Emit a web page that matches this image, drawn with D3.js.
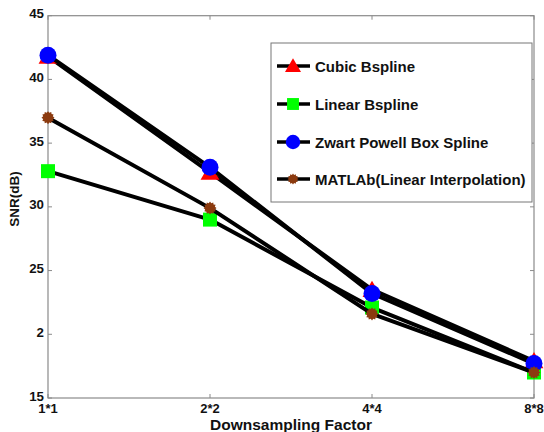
<!DOCTYPE html>
<html>
<head>
<meta charset="utf-8">
<script src="https://cdn.jsdelivr.net/npm/d3@7"></script>
<style>
  body { margin: 0; background: #fff; }
  svg { font-family: "Liberation Sans", Arial, Helvetica, sans-serif; font-weight: bold; }
</style>
</head>
<body>
<svg id="chart" width="544" height="432"></svg>
<script>
const factors = ['1*1', '2*2', '4*4', '8*8'];
const yTicks = [15, 20, 25, 30, 35, 40, 45];
const yTickLabels = ['15', '2', '25', '30', '35', '40', '45'];

const cubicBspline = [41.8, 32.7, 23.5, 17.9];
const linearBspline = [32.8, 29.0, 22.1, 17.0];
const zwartPowell = [41.9, 33.1, 23.2, 17.7];
const matlabLinear = [37.0, 29.9, 21.6, 17.0];

const seriesNames = ['Cubic Bspline', 'Linear Bspline', 'Zwart Powell Box Spline', 'MATLAb(Linear Interpolation)'];

const series = [
  { name: seriesNames[0], values: cubicBspline, marker: 'triangle', colour: '#ff0000' },
  { name: seriesNames[1], values: linearBspline, marker: 'square', colour: '#00ff00' },
  { name: seriesNames[2], values: zwartPowell, marker: 'circle', colour: '#0000ff' },
  { name: seriesNames[3], values: matlabLinear, marker: 'star', colour: '#8b3a0f' }
];

const svg = d3.select('#chart');
const plotLeft = 48, plotRight = 534, plotTop = 15.7, plotBottom = 398;
const axisColour = '#8a8a8a';

const x = d3.scalePoint().domain(factors).range([plotLeft, plotRight]);
const y = d3.scaleLinear().domain([15, 45]).range([plotBottom, plotTop]);

// frame
svg.append('rect')
  .attr('x', plotLeft).attr('y', plotTop)
  .attr('width', plotRight - plotLeft).attr('height', plotBottom - plotTop)
  .attr('fill', 'none').attr('stroke', axisColour).attr('stroke-width', 1.2);

// ticks on all four sides, pointing inward
const tickLen = 4;
yTicks.forEach(t => {
  svg.append('line').attr('x1', plotLeft).attr('x2', plotLeft + tickLen)
    .attr('y1', y(t)).attr('y2', y(t)).attr('stroke', axisColour);
  svg.append('line').attr('x1', plotRight).attr('x2', plotRight - tickLen)
    .attr('y1', y(t)).attr('y2', y(t)).attr('stroke', axisColour);
});
factors.forEach(f => {
  svg.append('line').attr('x1', x(f)).attr('x2', x(f))
    .attr('y1', plotBottom).attr('y2', plotBottom - tickLen).attr('stroke', axisColour);
  svg.append('line').attr('x1', x(f)).attr('x2', x(f))
    .attr('y1', plotTop).attr('y2', plotTop + tickLen).attr('stroke', axisColour);
});

// tick labels
svg.append('g').selectAll('text').data(yTicks).join('text')
  .attr('x', plotLeft - 4).attr('y', d => y(d) + 2.5)
  .attr('text-anchor', 'end').attr('font-size', 13.3).attr('fill', '#111')
  .text((d, i) => yTickLabels[i]);

svg.append('g').selectAll('text').data(factors).join('text')
  .attr('x', d => x(d)).attr('y', plotBottom + 15)
  .attr('text-anchor', 'middle').attr('font-size', 13).attr('fill', '#111')
  .text(d => d);

// axis titles
svg.append('text')
  .attr('x', (plotLeft + plotRight) / 2).attr('y', 429.5)
  .attr('text-anchor', 'middle').attr('font-size', 15.5).attr('fill', '#111')
  .text('Downsampling Factor');

svg.append('text')
  .attr('transform', `translate(19,199) rotate(-90)`)
  .attr('text-anchor', 'middle').attr('font-size', 13.5).attr('fill', '#111')
  .text('SNR(dB)');

// marker shapes
function starPath(r1, r2, n) {
  const pts = [];
  for (let i = 0; i < n * 2; i++) {
    const r = i % 2 === 0 ? r1 : r2;
    const a = Math.PI * i / n - Math.PI / 2;
    pts.push([r * Math.cos(a), r * Math.sin(a)]);
  }
  return 'M' + pts.map(p => p.join(',')).join('L') + 'Z';
}

function drawMarker(g, type, colour, cx, cy, scale = 1) {
  if (type === 'triangle') {
    const s = 9 * scale;
    g.append('path')
      .attr('d', `M${cx},${cy - s}L${cx + s * 1.05},${cy + s * 0.8}L${cx - s * 1.05},${cy + s * 0.8}Z`)
      .attr('fill', colour);
  } else if (type === 'square') {
    const s = 7 * scale;
    g.append('rect').attr('x', cx - s).attr('y', cy - s)
      .attr('width', 2 * s).attr('height', 2 * s).attr('fill', colour);
  } else if (type === 'circle') {
    g.append('circle').attr('cx', cx).attr('cy', cy).attr('r', 8.5 * scale).attr('fill', colour);
  } else {
    g.append('path').attr('d', starPath(6.5 * scale, 5 * scale, 12))
      .attr('transform', `translate(${cx},${cy})`).attr('fill', colour);
  }
}

const line = d3.line().x((d, i) => x(factors[i])).y(d => y(d));

series.forEach(s => {
  const g = svg.append('g');
  g.append('path').datum(s.values)
    .attr('d', line).attr('fill', 'none')
    .attr('stroke', '#000').attr('stroke-width', 4).attr('stroke-linejoin', 'round');
  s.values.forEach((v, i) => drawMarker(g, s.marker, s.colour, x(factors[i]), y(v)));
});

// legend
const legend = svg.append('g');
legend.append('rect')
  .attr('x', 271).attr('y', 43).attr('width', 261).attr('height', 159)
  .attr('fill', '#fff').attr('stroke', '#777').attr('stroke-width', 1);

const legendRows = [66, 104, 142, 179];
series.forEach((s, i) => {
  const ly = legendRows[i];
  legend.append('line').attr('x1', 277).attr('x2', 310)
    .attr('y1', ly).attr('y2', ly).attr('stroke', '#000').attr('stroke-width', 3.5);
  drawMarker(legend, s.marker, s.colour, 293, ly, 0.85);
  legend.append('text').attr('x', 315).attr('y', ly + 5.5)
    .attr('font-size', 15).attr('fill', '#111').text(s.name);
});
</script>
</body>
</html>
